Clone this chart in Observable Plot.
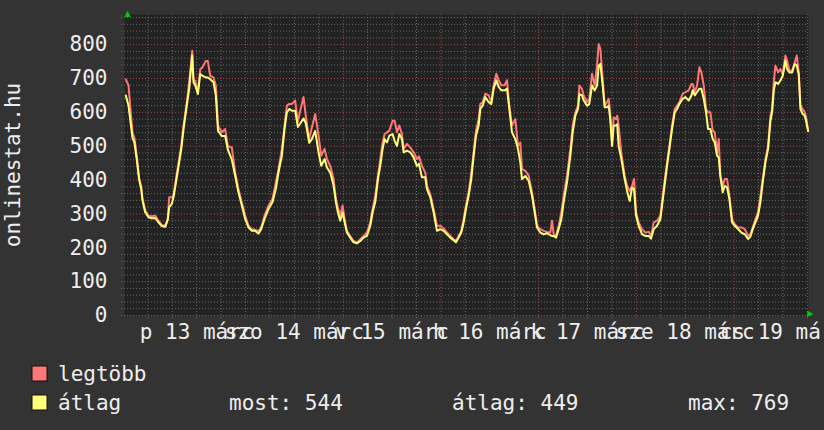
<!DOCTYPE html>
<html><head><meta charset="utf-8">
<script src="https://cdn.jsdelivr.net/npm/d3@7"></script>
<script src="https://cdn.jsdelivr.net/npm/@observablehq/plot@0.6"></script>
<style>
html,body{margin:0;padding:0;background:#333333;overflow:hidden;width:824px;height:430px;}
#chart{position:absolute;left:0;top:0;}
#legend{position:absolute;left:0;top:350px;}
</style></head><body>
<div id="chart"></div>
<svg id="legend" width="824" height="80"></svg>
<script>
// hours since 13 March 2015 00:00
const hours = [-5.40,-4.74,-3.76,-3.27,-2.70,-2.11,-1.62,-1.30,-0.64,0.17,0.98,1.82,2.63,3.44,4.28,4.91,5.26,5.90,6.32,6.88,7.54,8.21,8.77,9.58,10.17,10.91,11.23,11.65,12.29,12.88,13.44,14.25,14.74,15.33,16.14,16.71,17.25,
18.19,19.01,19.66,20.65,21.47,22.28,23.10,23.92,24.74,25.56,26.38,27.20,27.85,28.67,29.66,30.64,31.46,32.11,32.93,33.59,34.16,34.74,35.39,36.21,36.86,37.44,38.26,38.83,39.65,40.30,41.12,41.94,
42.60,43.42,44.00,44.82,45.64,46.21,46.70,47.27,47.85,48.34,48.91,49.73,50.55,51.37,52.19,53.01,53.83,54.65,55.22,55.87,56.53,57.10,57.68,58.17,58.74,59.32,60.13,60.63,61.20,61.77,62.43,62.84,63.66,64.48,65.29,66.11,66.60,
67.34,68.16,68.57,69.39,70.21,71.03,71.84,72.66,73.48,74.30,75.12,75.69,76.35,77.00,77.58,78.15,78.81,79.46,80.04,80.61,81.26,81.67,82.25,82.90,83.72,84.38,84.95,85.61,86.18,86.83,87.65,88.23,88.80,89.45,90.27,90.93,91.50,91.91,
92.73,93.55,94.37,95.02,95.60,96.41,97.23,98.05,98.87,99.28,99.69,100.26,100.92,101.57,102.15,102.97,103.79,104.36,105.01,105.67,106.00,106.65,107.06,107.88,108.45,109.11,109.76,110.34,110.75,111.16,111.73,112.22,112.80,113.21,113.62,114.03,114.43,115.01,115.29,115.66,
116.32,117.13,117.71,118.36,118.94,119.43,119.92,120.57,121.39,122.21,123.03,123.60,124.26,125.08,125.90,126.72,127.54,128.11,128.77,129.42,130.00,130.57,131.39,132.04,132.86,133.52,133.84,134.34,134.91,135.48,135.97,136.55,137.12,137.61,138.18,138.76,139.25,139.82,
140.23,140.64,141.21,141.70,142.28,142.85,143.51,144.16,144.98,145.80,146.62,147.44,148.01,148.58,149.24,149.89,150.47,151.04,151.70,152.35,152.93,153.34,153.75,154.15,154.81,155.38,155.96,156.61,157.02,157.60,158.25,158.91,159.40,159.89,160.30,160.87,161.36,161.77,162.18];

const legtobb = [697,680,540,525,470,405,380,345,310,295,293,295,280,267,265,285,349,349,355,400,450,500,560,630,690,782,698,693,659,727,733,752,752,708,703,679,560,
541,551,500,496,422,373,334,295,265,255,253,250,260,295,325,345,394,433,492,561,620,625,625,635,572,605,645,587,521,555,595,531,
472,492,462,442,403,344,319,295,325,285,250,235,220,216,225,235,245,275,315,354,413,462,511,536,541,546,575,575,541,561,536,492,507,496,482,462,470,
442,422,383,358,314,265,265,257,245,235,225,220,235,250,285,325,364,423,482,546,580,625,630,655,650,630,680,714,695,680,680,695,620,561,580,501,511,433,
427,413,364,315,265,255,250,247,245,280,240,235,265,305,354,413,492,561,600,620,679,669,650,630,640,714,679,738,802,787,698,620,630,640,590,511,585,580,590,560,
478,413,383,368,383,403,305,275,255,245,247,235,275,280,295,378,452,501,561,610,620,630,655,660,665,684,684,660,679,733,718,679,610,600,600,546,541,482,
521,413,383,403,403,354,285,270,260,260,255,235,240,260,285,305,354,403,462,501,590,610,689,738,718,728,712,768,753,723,723,748,768,718,620,610,600,580,548];

const atlag = [650,620,525,510,460,400,375,340,305,290,287,288,275,264,262,283,320,330,350,390,440,490,550,620,670,768,689,680,654,713,708,703,703,698,689,650,545,
530,530,490,460,412,363,325,285,260,250,250,242,255,285,315,335,375,423,472,551,600,610,605,605,557,567,582,567,510,521,545,482,
442,462,437,422,383,334,304,280,304,275,245,230,216,213,220,230,235,265,305,335,403,442,492,521,511,531,536,516,501,536,521,482,487,482,467,442,448,
408,408,373,349,304,250,255,250,240,230,222,216,230,245,275,315,354,403,472,531,561,610,620,645,630,625,670,695,675,665,665,670,610,541,521,492,452,403,
412,398,354,305,260,245,240,243,237,235,235,230,255,285,335,394,472,541,590,610,654,650,635,620,625,679,665,679,738,743,679,615,615,620,575,501,561,561,565,500,
462,403,368,338,378,373,295,265,240,235,235,227,255,265,285,364,442,492,551,600,610,625,640,645,635,650,665,650,660,670,670,640,600,551,551,521,511,472,
467,410,364,383,378,344,275,265,255,245,240,226,233,255,275,295,335,394,452,492,575,600,665,689,684,694,708,753,728,718,718,743,738,712,610,595,590,570,544];

const labelDays = [13, 14, 15, 16, 17, 18, 19];
const dayLabels = ["p 13 márc", "szo 14 márc", "v 15 márc", "h 16 márc", "k 17 márc", "sze 18 márc", "cs 19 márc"];
const yTicks = [0, 100, 200, 300, 400, 500, 600, 700, 800];
const yTitle = "onlinestat.hu";
const seriesNames = ["legtöbb", "átlag"];
const statNames = ["most", "átlag", "max"];
const statValues = [544, 449, 769];

const base = Date.UTC(2015, 2, 13);
const T = h => new Date(base + h * 3600e3);
const rows = hours.map((h, i) => ({t: T(h), max: legtobb[i], avg: atlag[i]}));
const minorY = d3.range(20, 881, 20).filter(v => v % 100 !== 0);
const majorY = d3.range(0, 801, 100);
const minorX = d3.range(-0, 163, 6).filter(h => h % 24 !== 0).map(T);
const majorX = d3.range(0, 163, 24).map(T);

const FONT = "'DejaVu Sans Mono', monospace";
const TXT = "#eeeeee";

const chart = Plot.plot({
  width: 824, height: 350,
  marginLeft: 124, marginRight: 16, marginTop: 14, marginBottom: 35,
  style: {background: "#333333", color: TXT, fontFamily: FONT, fontSize: "21px"},
  x: {type: "utc", domain: [T(-5.72), T(162.28)], axis: null},
  y: {domain: [0, 889], axis: null},
  marks: [
    Plot.frame({fill: "#222222", stroke: "none"}),
    Plot.ruleY(minorY, {stroke: "#6a6a6a", strokeDasharray: "1,2", insetLeft: -3}),
    Plot.ruleX(minorX, {stroke: "#6a6a6a", strokeDasharray: "1,2", insetBottom: -3}),
    Plot.ruleY(majorY, {stroke: "#a04848", strokeDasharray: "1,2", insetLeft: -3}),
    Plot.ruleX(majorX, {stroke: "#a04848", strokeDasharray: "1,2", insetBottom: -3}),
    Plot.lineY(rows, {x: "t", y: "max", stroke: "#ff7777", strokeWidth: 2}),
    Plot.lineY(rows, {x: "t", y: "avg", stroke: "#ffff77", strokeWidth: 2}),
    Plot.axisY(yTicks, {tickSize: 0, tickPadding: 17, fontSize: 21, fill: TXT}),
    Plot.text(labelDays, {x: d => T((d - 13) * 24 + 12), text: (d, i) => dayLabels[i], frameAnchor: "bottom", lineAnchor: "bottom", dy: 23, fill: TXT, fontSize: 21}),
    Plot.text([yTitle], {frameAnchor: "left", dx: -111, rotate: -90, fill: TXT, fontSize: 21, textAnchor: "middle"}),
    Plot.text(["▲"], {frameAnchor: "top-left", dy: -4, fill: "#00cc00", fontSize: 8, fontFamily: "DejaVu Sans"}),
    Plot.text(["▶"], {frameAnchor: "bottom-right", dx: 5, fill: "#00cc00", fontSize: 8, fontFamily: "DejaVu Sans"})
  ]
});
document.getElementById("chart").appendChild(chart);

// legend
const lg = d3.select("#legend").style("font-family", FONT).style("font-size", "21px");
const sw = [["#ff7777", 16], ["#ffff77", 45]];
sw.forEach(([c, y], i) => {
  lg.append("rect").attr("x", 32).attr("y", y).attr("width", 15).attr("height", 15)
    .attr("fill", c).attr("stroke", "#111").attr("stroke-width", 1);
  lg.append("text").attr("x", 58).attr("y", y + 15).attr("fill", TXT).text(seriesNames[i]);
});
const statX = [229, 452, 688];
statNames.forEach((n, i) => {
  lg.append("text").attr("x", statX[i]).attr("y", 60).attr("fill", TXT)
    .style("white-space", "pre").text(n + ": " + statValues[i]);
});
</script>
</body></html>
